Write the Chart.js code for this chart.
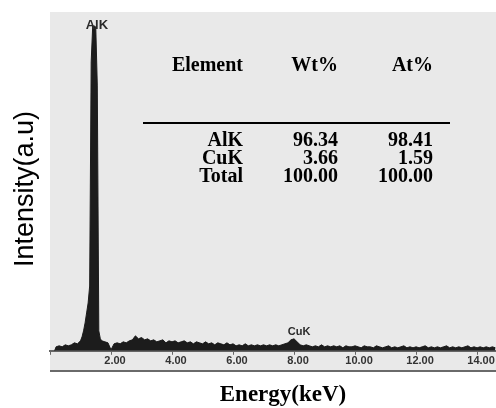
<!DOCTYPE html>
<html>
<head>
<meta charset="utf-8">
<script src="https://cdn.jsdelivr.net/npm/chart.js@4.4.1/dist/chart.umd.min.js"></script>
<style>
  html, body { margin: 0; padding: 0; background: #fff; }
  canvas { display: block; }
</style>
</head>
<body>
<canvas id="myChart" width="496" height="408"></canvas>
<script>
// EDS spectrum, energy in keV / counts (arbitrary units)
const energy = [
  0.15, 0.2, 0.3, 0.4, 0.5, 0.6, 0.7, 0.8, 0.9, 1.0,
  1.05, 1.1, 1.15, 1.2, 1.25, 1.3, 1.35, 1.4, 1.45, 1.5,
  1.55, 1.6, 1.65, 1.7, 1.8, 1.9, 2.0, 2.1, 2.2, 2.3,
  2.4, 2.5, 2.6, 2.7, 2.8, 2.9, 3.0, 3.1, 3.2, 3.3,
  3.4, 3.5, 3.6, 3.7, 3.8, 3.9, 4.0, 4.1, 4.2, 4.3,
  4.4, 4.5, 4.6, 4.7, 4.8, 4.9, 5.0, 5.1, 5.2, 5.3,
  5.4, 5.5, 5.6, 5.7, 5.8, 5.9, 6.0, 6.1, 6.2, 6.3,
  6.4, 6.5, 6.6, 6.7, 6.8, 6.9, 7.0, 7.1, 7.2, 7.3,
  7.4, 7.5, 7.6, 7.7, 7.8, 7.9, 8.0, 8.1, 8.2, 8.3,
  8.4, 8.5, 8.6, 8.7, 8.8, 8.9, 9.0, 9.1, 9.2, 9.3,
  9.4, 9.5, 9.6, 9.7, 9.8, 9.9, 10.0, 10.1, 10.2, 10.3,
  10.4, 10.5, 10.6, 10.7, 10.8, 10.9, 11.0, 11.1, 11.2, 11.3,
  11.4, 11.5, 11.6, 11.7, 11.8, 11.9, 12.0, 12.1, 12.2, 12.3,
  12.4, 12.5, 12.6, 12.7, 12.8, 12.9, 13.0, 13.1, 13.2, 13.3,
  13.4, 13.5, 13.6, 13.7, 13.8, 13.9, 14.0, 14.1, 14.2, 14.3,
  14.4, 14.5, 14.6
];
const counts = [
  0, 12, 15, 12, 18, 15, 18, 24, 21, 30,
  42, 60, 84, 114, 144, 195, 870, 978, 978, 975,
  800, 60, 36, 30, 27, 24, 3, 21, 24, 21,
  27, 24, 30, 33, 45, 36, 40, 33, 36, 30,
  33, 27, 30, 33, 24, 30, 27, 30, 24, 27,
  30, 24, 27, 21, 27, 24, 21, 27, 21, 24,
  18, 24, 21, 18, 24, 18, 21, 15, 18, 15,
  21, 15, 18, 15, 18, 15, 18, 15, 18, 15,
  18, 15, 18, 21, 24, 33, 36, 27, 18, 15,
  18, 15, 12, 15, 12, 18, 12, 15, 12, 15,
  12, 15, 9, 15, 12, 12, 15, 12, 9, 15,
  12, 12, 9, 15, 12, 9, 12, 15, 9, 12,
  9, 12, 15, 9, 12, 9, 12, 9, 12, 15,
  9, 12, 9, 12, 9, 12, 15, 9, 12, 9,
  12, 9, 12, 15, 9, 12, 9, 12, 9, 12,
  9, 12, 9
];

const peakNames = ['AlK', 'CuK'];
const peakEnergy = [1.47, 8.0];
const peakCounts = [978, 36];

const tableHead = ['Element', 'Wt%', 'At%'];
const elements = ['AlK', 'CuK', 'Total'];
const wtPercent = ['96.34', '3.66', '100.00'];
const atPercent = ['98.41', '1.59', '100.00'];

const points = energy.map((e, i) => ({ x: e, y: counts[i] }));

const decor = {
  id: 'decor',
  beforeDraw(chart) {
    const ctx = chart.ctx;
    const a = chart.chartArea;
    ctx.save();
    ctx.fillStyle = '#e9e9e9';
    ctx.fillRect(a.left, a.top, a.right - a.left, 372 - a.top);
    ctx.strokeStyle = '#6a6a6a';
    ctx.lineWidth = 2;
    ctx.beginPath();
    ctx.moveTo(a.left, 371);
    ctx.lineTo(a.right, 371);
    ctx.stroke();
    ctx.restore();
  },
  afterDraw(chart) {
    const ctx = chart.ctx;
    const xs = chart.scales.x, ys = chart.scales.y;
    ctx.save();
    ctx.fillStyle = '#000';

    // axis titles
    ctx.font = 'bold 23px "Liberation Serif", serif';
    ctx.textAlign = 'center';
    ctx.textBaseline = 'alphabetic';
    ctx.fillText('Energy(keV)', 283, 401);
    ctx.save();
    ctx.translate(33, 189);
    ctx.rotate(-Math.PI / 2);
    ctx.font = '27px "Liberation Sans", Arial, sans-serif';
    ctx.fillText('Intensity(a.u)', 0, 0);
    ctx.restore();

    // peak labels
    ctx.fillStyle = '#2a2a2a';
    ctx.font = 'bold 13px "Liberation Sans", Arial, sans-serif';
    ctx.fillText(peakNames[0], xs.getPixelForValue(peakEnergy[0]) + 2, ys.getPixelForValue(peakCounts[0]) + 3);
    ctx.font = 'bold 11px "Liberation Sans", Arial, sans-serif';
    ctx.fillText(peakNames[1], xs.getPixelForValue(peakEnergy[1]) + 5, ys.getPixelForValue(peakCounts[1]) - 4);

    // composition table
    ctx.fillStyle = '#000';
    ctx.font = 'bold 20px "Liberation Serif", serif';
    ctx.textAlign = 'right';
    const colX = [243, 338, 433];
    tableHead.forEach((h, i) => ctx.fillText(h, colX[i], 71));
    ctx.lineWidth = 2;
    ctx.beginPath();
    ctx.moveTo(143, 123);
    ctx.lineTo(450, 123);
    ctx.stroke();
    const rowY = [146, 164, 182];
    elements.forEach((el, r) => {
      ctx.fillText(el, colX[0], rowY[r]);
      ctx.fillText(wtPercent[r], colX[1], rowY[r]);
      ctx.fillText(atPercent[r], colX[2], rowY[r]);
    });
    ctx.restore();
  }
};

const config = {
  type: 'line',
  data: {
    datasets: [{
      data: points,
      borderColor: '#1c1c1c',
      backgroundColor: '#1c1c1c',
      borderWidth: 1,
      pointRadius: 0,
      tension: 0,
      fill: 'origin'
    }]
  },
  options: {
    responsive: false,
    animation: false,
    layout: { padding: { left: 50, right: 0, top: 12, bottom: 40 } },
    plugins: { legend: { display: false }, tooltip: { enabled: false } },
    scales: {
      x: {
        type: 'linear',
        min: 0,
        max: 14.62,
        border: { display: true, color: '#666', width: 2 },
        grid: { drawOnChartArea: false, drawTicks: true, tickLength: 4, color: '#666' },
        ticks: {
          stepSize: 2,
          includeBounds: false,
          padding: 0,
          labelOffset: 4,
          maxRotation: 0,
          autoSkip: false,
          color: '#333',
          font: { family: '"Liberation Sans", Arial, sans-serif', size: 11, weight: 'bold' },
          callback: (v) => v === 0 ? '' : v.toFixed(2)
        }
      },
      y: {
        display: false,
        min: 0,
        max: 1020
      }
    }
  },
  plugins: [decor]
};

const chart = new Chart(document.getElementById('myChart'), config);
</script>
</body>
</html>
